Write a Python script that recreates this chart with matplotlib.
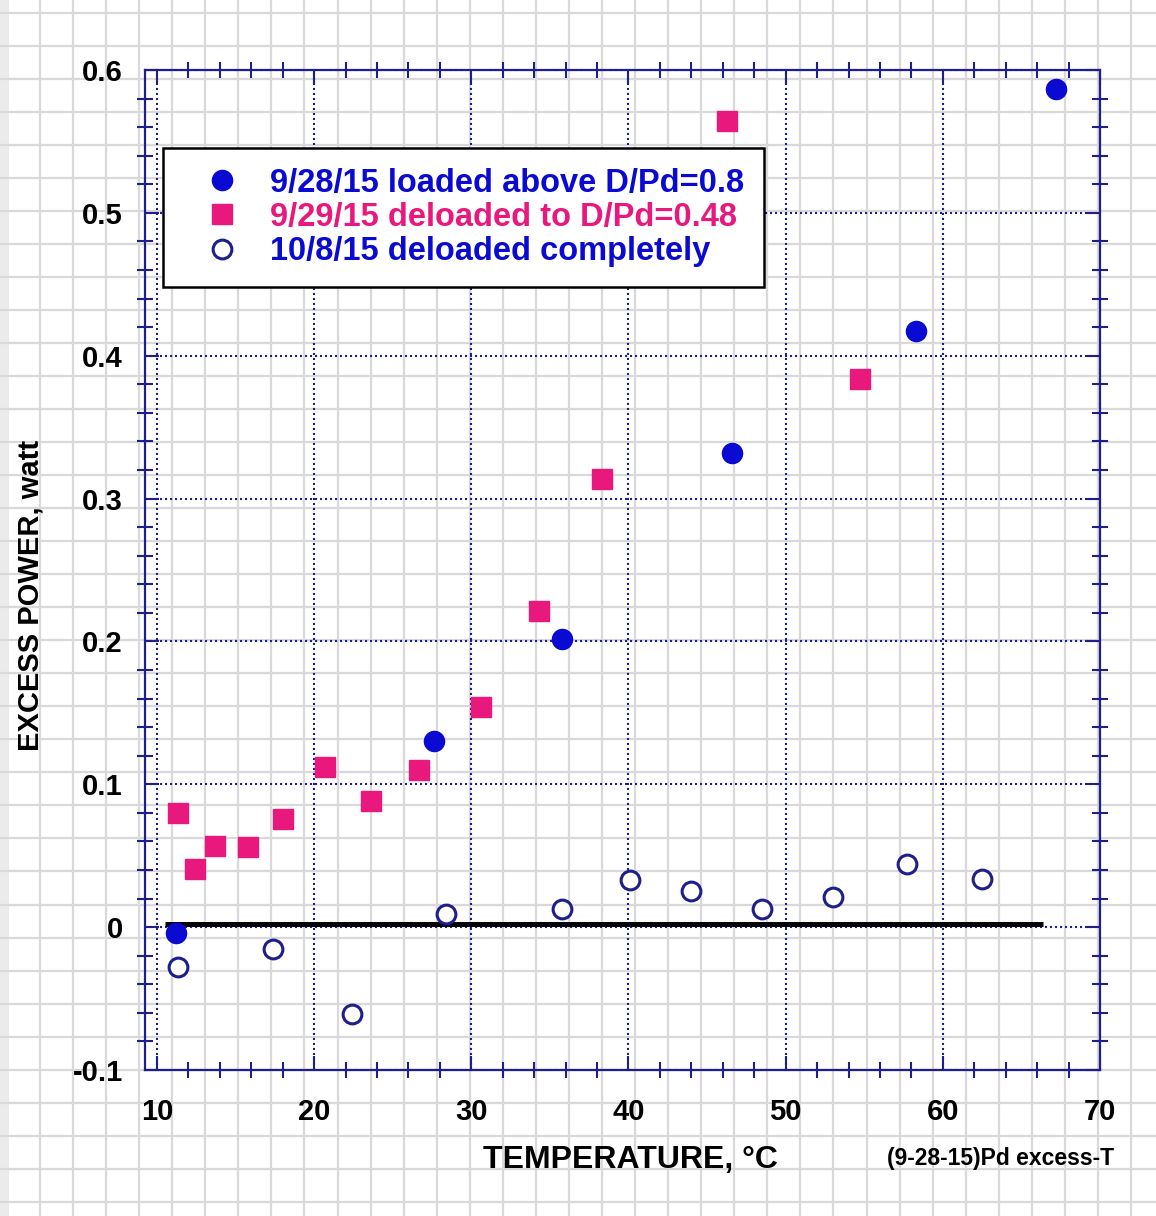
import numpy as np
import matplotlib
matplotlib.use("Agg")
import matplotlib.pyplot as plt
from matplotlib.ticker import MultipleLocator

# excess power vs cell temperature, three runs
loaded_T = [11.2, 27.6, 35.8, 46.6, 58.3, 67.2]
loaded_P = [-0.004, 0.130, 0.202, 0.332, 0.417, 0.587]

deloaded_T = [11.35, 12.4, 13.7, 15.8, 18.0, 20.7, 23.6, 26.7, 30.6, 34.3, 38.3, 46.3, 54.7]
deloaded_P = [0.080, 0.041, 0.057, 0.056, 0.076, 0.112, 0.088, 0.110, 0.154, 0.221, 0.314, 0.564, 0.384]

empty_T = [11.35, 17.4, 22.4, 28.4, 35.8, 40.1, 44.0, 48.5, 53.0, 57.7, 62.5]
empty_P = [-0.028, -0.015, -0.061, 0.009, 0.013, 0.033, 0.025, 0.013, 0.021, 0.044, 0.034]

labels = ["9/28/15 loaded above D/Pd=0.8",
          "9/29/15 deloaded to D/Pd=0.48",
          "10/8/15 deloaded completely"]

x_ticks = [10, 20, 30, 40, 50, 60, 70]
y_ticks = [-0.1, 0, 0.1, 0.2, 0.3, 0.4, 0.5, 0.6]
y_ticklabels = ["-0.1", "0", "0.1", "0.2", "0.3", "0.4", "0.5", "0.6"]

NAVY = "#1e1e8c"
BLUE = "#0a0ad2"
PINK = "#e8187c"

plt.rcParams["font.family"] = ["Liberation Sans", "DejaVu Sans"]
plt.rcParams["font.weight"] = "bold"

W, H = 1156, 1216
fig = plt.figure(figsize=(W / 100, H / 100), dpi=100)

# graph-paper backdrop (pixel units)
bg = fig.add_axes([0, 0, 1, 1], zorder=0)
bg.set_xlim(0, W); bg.set_ylim(H, 0); bg.axis("off")
bg.axvspan(0, 9, color="#ebebeb", lw=0)
for gx in np.arange(40, W, 33.06):
    bg.axvline(gx, color="#d9d9d9", lw=1.6)
for gy in np.arange(12.7, H, 33.03):
    bg.axhline(gy, color="#d9d9d9", lw=1.6)

ax = fig.add_axes([145 / W, 1 - 1070 / H, 955 / W, 1000 / H], zorder=1)
ax.patch.set_alpha(0)
ax.set_xlim(9.24, 70)
ax.set_ylim(-0.1, 0.6)

ax.set_xticks(x_ticks)
ax.set_xticklabels([str(t) for t in x_ticks])
ax.set_yticks(y_ticks)
ax.set_yticklabels(y_ticklabels)
ax.xaxis.set_minor_locator(MultipleLocator(2))
ax.yaxis.set_minor_locator(MultipleLocator(0.02))

ax.grid(which="major", color=NAVY, ls=(0, (1, 1.4)), lw=1.5)
ax.tick_params(which="major", direction="in", length=10, width=1.5, color=NAVY,
               top=True, right=True, labelsize=21, labelcolor="black")
ax.tick_params(axis="x", which="major", pad=20)
ax.tick_params(axis="y", which="major", pad=16)
ax.tick_params(which="minor", direction="inout", length=11, width=1.5, color=NAVY,
               top=True, right=True)
for sp in ax.spines.values():
    sp.set_color(NAVY); sp.set_linewidth(1.6)

ax.plot([10.5, 66.4], [0.002, 0.002], color="black", lw=3.6, solid_capstyle="butt", zorder=3)

ax.plot(loaded_T, loaded_P, "o", ms=14.5, color=BLUE, mec=BLUE, label=labels[0], zorder=4)
ax.plot(deloaded_T, deloaded_P, "s", ms=14, color=PINK, mec=PINK, label=labels[1], zorder=4)
ax.plot(empty_T, empty_P, "o", ms=13.5, mfc="white", mec=NAVY, mew=2.2, label=labels[2], zorder=4)

leg = ax.legend(loc="upper left", bbox_to_anchor=(0.0188, 0.922), borderaxespad=0,
                fancybox=False, framealpha=1, edgecolor="black",
                borderpad=0.6, handlelength=2.42, handletextpad=0.26, labelspacing=0.1,
                labelcolor=[BLUE, PINK, BLUE], prop={"weight": "bold", "size": 23.5})
leg.get_frame().set_linewidth(1.8)
leg.set_zorder(5)

ax.set_xlabel("TEMPERATURE, °C", fontsize=23, fontweight="bold")
ax.xaxis.label.set_va("center")
ax.xaxis.set_label_coords(0.508, -0.09)
ax.set_ylabel("EXCESS POWER, watt", fontsize=21, fontweight="bold")
ax.yaxis.label.set_va("center")
ax.yaxis.set_label_coords(-0.1204, 0.475)

fig.text(1001 / W, 1 - 1158 / H, "(9-28-15)Pd excess-T", fontsize=16.5,
         fontweight="bold", ha="center", va="center")

fig.savefig("out.png", dpi=100)
